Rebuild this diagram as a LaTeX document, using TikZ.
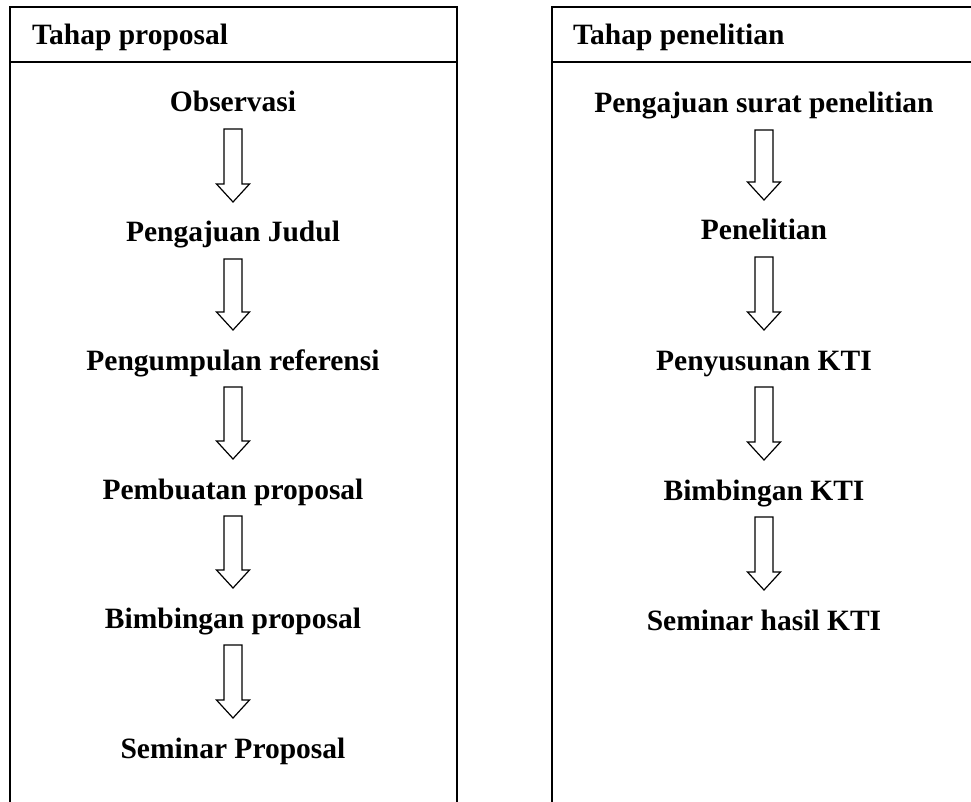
\documentclass[tikz,border=0pt]{standalone}
\usepackage{fontspec}
\setmainfont{Liberation Serif}
\usetikzlibrary{calc, positioning}

\tikzset{
  stage/.style={inner sep=0pt, anchor=base, font=\fontsize{29.5}{35}\selectfont\bfseries},
  frame/.style={line width=1.6pt},
  blockarrow/.style={draw, line width=1.2pt, line join=miter, to path={
    let \p1=($(\tikztostart.base)+(0,-17)$), \p2=($(\tikztotarget.base)+(0,40)$) in
    (\x1-9pt,\y1) -- (\x1-9pt,\y2+18pt) -- (\x1-16.5pt,\y2+18pt) -- (\x1,\y2)
    -- (\x1+16.5pt,\y2+18pt) -- (\x1+9pt,\y2+18pt) -- (\x1+9pt,\y1) -- cycle}}
}

\begin{document}
\begin{tikzpicture}[x=1pt, y=1pt]
\useasboundingbox (0,0) rectangle (971,-802);

% Proposal box
\draw[frame] (10,-802) -- (10,-7) -- (457,-7) -- (457,-802);
\draw[frame] (10,-62) -- (457,-62);
\node[stage, anchor=base west] (propHead) at (32,-45) {Tahap proposal};

% Research box
\draw[frame] (552,-802) -- (552,-7) -- (971,-7);
\draw[frame] (552,-62) -- (971,-62);
\node[stage, anchor=base west] (penHead) at (573,-45) {Tahap penelitian};

% Proposal steps
\foreach \name/\y/\txt in {prop1/112/Observasi, prop2/242/Pengajuan Judul,
    prop3/370/Pengumpulan referensi, prop4/499/Pembuatan proposal,
    prop5/628/Bimbingan proposal, prop6/758/Seminar Proposal} {
  \node[stage] (\name) at (233,-\y) {\txt};
}

% Research steps
\foreach \name/\y/\txt in {pen1/113/Pengajuan surat penelitian, pen2/240/Penelitian,
    pen3/370/Penyusunan KTI, pen4/500/Bimbingan KTI, pen5/630/Seminar hasil KTI} {
  \node[stage] (\name) at (764,-\y) {\txt};
}

% Arrows
\foreach \a/\b in {prop1/prop2, prop2/prop3, prop3/prop4, prop4/prop5, prop5/prop6,
    pen1/pen2, pen2/pen3, pen3/pen4, pen4/pen5} {
  \draw[blockarrow] (\a) to (\b);
}

\end{tikzpicture}
\end{document}
